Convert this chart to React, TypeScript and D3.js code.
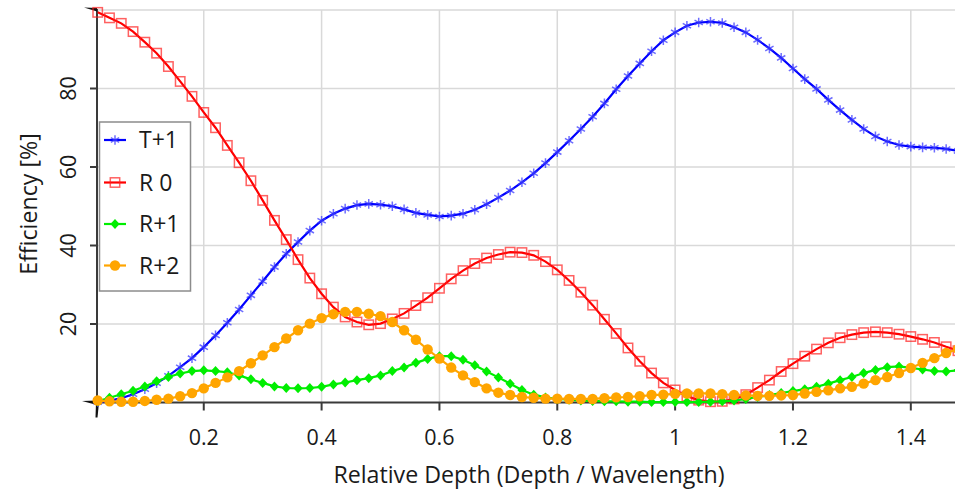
import React from "react";
import * as d3 from "d3";

const depth = [0.02,0.04,0.06,0.08,0.10,0.12,0.14,0.16,0.18,0.20,0.22,0.24,0.26,0.28,0.30,0.32,0.34,0.36,0.38,0.40,0.42,0.44,0.46,0.48,0.50,0.52,0.54,0.56,0.58,0.60,0.62,0.64,0.66,0.68,0.70,0.72,0.74,0.76,0.78,0.80,0.82,0.84,0.86,0.88,0.90,0.92,0.94,0.96,0.98,1.00,1.02,1.04,1.06,1.08,1.10,1.12,1.14,1.16,1.18,1.20,1.22,1.24,1.26,1.28,1.30,1.32,1.34,1.36,1.38,1.40,1.42,1.44,1.46,1.48];

const tPlus1 = [0.1,0.4,1.1,2.1,3.4,4.9,6.8,9.0,11.3,14.1,17.1,20.3,23.7,27.3,30.9,34.5,37.9,40.9,43.8,46.3,48.1,49.4,50.3,50.6,50.4,50.0,49.2,48.3,47.8,47.4,47.6,48.1,49.1,50.5,52.2,54.0,56.1,58.4,61.0,63.8,66.7,69.7,72.8,76.2,79.8,83.2,86.4,89.5,92.3,94.3,96.0,96.8,97.0,96.7,95.6,94.3,92.4,90.2,87.8,85.1,82.4,79.9,77.1,74.5,72.0,69.7,67.8,66.5,65.6,65.2,65.0,64.9,64.6,64.1];

const r0 = [99.4,98.0,96.6,94.5,91.8,89.0,85.6,81.8,78.0,73.9,70.0,65.5,61.1,56.5,51.5,46.4,41.5,36.4,31.7,27.7,24.3,21.8,20.5,19.8,20.1,21.3,22.7,24.7,26.7,29.1,31.5,33.6,35.4,36.8,37.7,38.3,38.2,37.5,35.9,33.8,31.1,28.1,24.8,21.2,17.6,13.9,10.5,7.5,5.0,3.2,1.6,0.6,0.2,0.3,0.9,2.0,3.8,5.7,7.9,9.9,11.8,13.6,15.2,16.5,17.3,17.8,18.0,17.8,17.4,16.8,16.1,15.3,14.2,13.2];

const rPlus1 = [0.3,1.2,2.1,3.0,4.1,5.4,6.5,7.4,8.0,8.2,8.0,7.7,6.9,5.9,5.0,4.1,3.7,3.6,3.7,4.0,4.6,5.1,5.7,6.2,6.9,8.0,8.9,10.1,11.1,11.8,11.8,10.9,9.5,7.9,6.4,4.8,3.2,2.0,1.3,0.9,0.7,0.5,0.4,0.3,0.3,0.2,0.2,0.1,0.1,0.1,0.1,0.1,0.2,0.3,0.5,0.9,1.4,1.9,2.4,2.9,3.4,4.0,4.8,5.7,6.5,7.5,8.3,9.0,9.2,8.8,8.4,8.0,7.9,8.2];

const rPlus2 = [0.5,0.3,0.2,0.2,0.4,0.7,1.0,1.6,2.4,3.6,5.0,6.4,8.0,10.0,12.0,14.1,16.3,18.4,20.1,21.5,22.5,23.1,23.1,22.6,22.0,20.5,18.4,16.0,13.5,11.2,8.9,6.9,5.2,3.6,2.5,1.9,1.4,1.2,1.0,1.0,0.9,0.9,0.9,1.1,1.3,1.4,1.6,1.9,2.0,2.2,2.3,2.3,2.3,2.1,1.9,1.8,1.7,1.7,1.8,1.9,2.3,2.7,3.1,3.6,4.0,4.8,5.7,6.5,7.5,8.8,10.1,11.3,12.6,13.6];

const xTicks = [0.2, 0.4, 0.6, 0.8, 1, 1.2, 1.4];
const xTickLabels = ["0.2", "0.4", "0.6", "0.8", "1", "1.2", "1.4"];
const yTicks = [20, 40, 60, 80];
const yTickLabels = ["20", "40", "60", "80"];
const seriesNames = ["T+1", "R 0", "R+1", "R+2"];

const FONT = "'Open Sans', 'Noto Sans', sans-serif";
const TEXT = "#1a1a1a";

const W = 955, H = 491;
const L = 97.7, R = 955, T = 10, B = 402.5;

const x = d3.scaleLinear().domain([0.02, 1.475]).range([L, R]);
const y = d3.scaleLinear().domain([0, 100]).range([B, T]);

type MarkerKind = "star" | "square" | "diamond" | "circle";

const styles: { line: string; marker: MarkerKind; mStroke: string; mFill: string }[] = [
  { line: "#0000ff", marker: "star", mStroke: "rgba(60,60,255,0.75)", mFill: "none" },
  { line: "#ff0000", marker: "square", mStroke: "rgba(255,30,30,0.7)", mFill: "none" },
  { line: "#00ee00", marker: "diamond", mStroke: "none", mFill: "#00ee00" },
  { line: "#ffa500", marker: "circle", mStroke: "none", mFill: "#ffa500" },
];

const seriesValues = [tPlus1, r0, rPlus1, rPlus2];

function Marker({ kind, cx, cy, stroke, fill }: { kind: MarkerKind; cx: number; cy: number; stroke: string; fill: string }) {
  if (kind === "star") {
    const r = 4.8;
    const c = Math.cos(Math.PI / 6) * r, s = Math.sin(Math.PI / 6) * r;
    const d = `M${cx},${cy - r}L${cx},${cy + r}M${cx - c},${cy - s}L${cx + c},${cy + s}M${cx - c},${cy + s}L${cx + c},${cy - s}`;
    return <path d={d} stroke={stroke} strokeWidth={1.5} fill="none" />;
  }
  if (kind === "square") {
    return <rect x={cx - 4.7} y={cy - 4.7} width={9.4} height={9.4} fill="none" stroke={stroke} strokeWidth={1.5} />;
  }
  if (kind === "diamond") {
    const d = `M${cx},${cy - 5}L${cx + 4.6},${cy}L${cx},${cy + 5}L${cx - 4.6},${cy}Z`;
    return <path d={d} fill={fill} />;
  }
  return <circle cx={cx} cy={cy} r={5.2} fill={fill} />;
}

export default function App() {
  const line = d3.line<number>().x((_, i) => x(depth[i])).y((v) => y(v));
  const legendY = [140, 182.5, 224, 265.5];
  return (
    <div style={{ position: "absolute", left: 0, top: 0 }}>
      <svg width={W} height={H} style={{ display: "block", background: "#fff" }}>
        <defs>
          <clipPath id="plot">
            <rect x={L - 6} y={T - 6} width={R - L + 6} height={B - T + 12} />
          </clipPath>
        </defs>
        {/* grid */}
        <g stroke="#d9d9d9" strokeWidth={1.5}>
          {xTicks.map((t) => (
            <line key={"gx" + t} x1={x(t)} x2={x(t)} y1={T} y2={B} />
          ))}
          {[...yTicks, 100].map((t) => (
            <line key={"gy" + t} x1={L} x2={R} y1={y(t)} y2={y(t)} />
          ))}
        </g>
        {/* axes */}
        <g stroke="#3a3a3a" strokeWidth={2}>
          <line x1={97} x2={97} y1={T - 1} y2={B} />
          <line x1={97} x2={R} y1={B} y2={B} />
          {xTicks.map((t) => (
            <line key={"tx" + t} x1={x(t)} x2={x(t)} y1={B} y2={B + 8} />
          ))}
          {yTicks.map((t) => (
            <line key={"ty" + t} x1={90} x2={97} y1={y(t)} y2={y(t)} />
          ))}
        </g>
        {/* corner wedges */}
        <path d={`M84,7.5L97,8L97,11.5Z`} fill="#111" />
        <path d={`M82,${B - 1.5}L97,${B - 2}L97,${B + 2.5}Z`} fill="#111" />
        <path d={`M96,${B}L99,${B}L97.5,${B + 15}L95.5,${B + 15}Z`} fill="#111" />
        {/* tick labels */}
        <g fontFamily={FONT} fill={TEXT}>
          {xTicks.map((t, i) => (
            <text key={"lx" + t} x={x(t)} y={444.5} textAnchor="middle" fontSize={21.5}>{xTickLabels[i]}</text>
          ))}
          {yTicks.map((t, i) => (
            <text key={"ly" + t} transform={`translate(76,${y(t)}) rotate(-90)`} textAnchor="middle" fontSize={21.5}>{yTickLabels[i]}</text>
          ))}
          <text x={529} y={483} textAnchor="middle" fontSize={23.2}>Relative Depth (Depth / Wavelength)</text>
          <text transform={`translate(37,204) rotate(-90)`} textAnchor="middle" fontSize={23.2}>Efficiency [%]</text>
        </g>
        {/* series */}
        <g clipPath="url(#plot)">
          {seriesValues.map((vals, si) => (
            <g key={"s" + si}>
              <path d={line(vals) || ""} fill="none" stroke={styles[si].line} strokeWidth={2.2} />
              {vals.map((v, i) => (
                <Marker key={i} kind={styles[si].marker} cx={x(depth[i])} cy={y(v)} stroke={styles[si].mStroke} fill={styles[si].mFill} />
              ))}
            </g>
          ))}
        </g>
        {/* legend */}
        <rect x={99.5} y={122} width={91} height={169} fill="#fff" stroke="#8c8c8c" strokeWidth={1.5} />
        {seriesNames.map((n, i) => (
          <g key={"lg" + n}>
            <line x1={104} x2={126} y1={legendY[i]} y2={legendY[i]} stroke={styles[i].line} strokeWidth={2.2} />
            <Marker kind={styles[i].marker} cx={115} cy={legendY[i]} stroke={styles[i].mStroke} fill={styles[i].mFill} />
            <text x={139} y={legendY[i]} dy="0.36em" fontFamily={FONT} fontSize={23} fill={TEXT}>{n}</text>
          </g>
        ))}
      </svg>
    </div>
  );
}
